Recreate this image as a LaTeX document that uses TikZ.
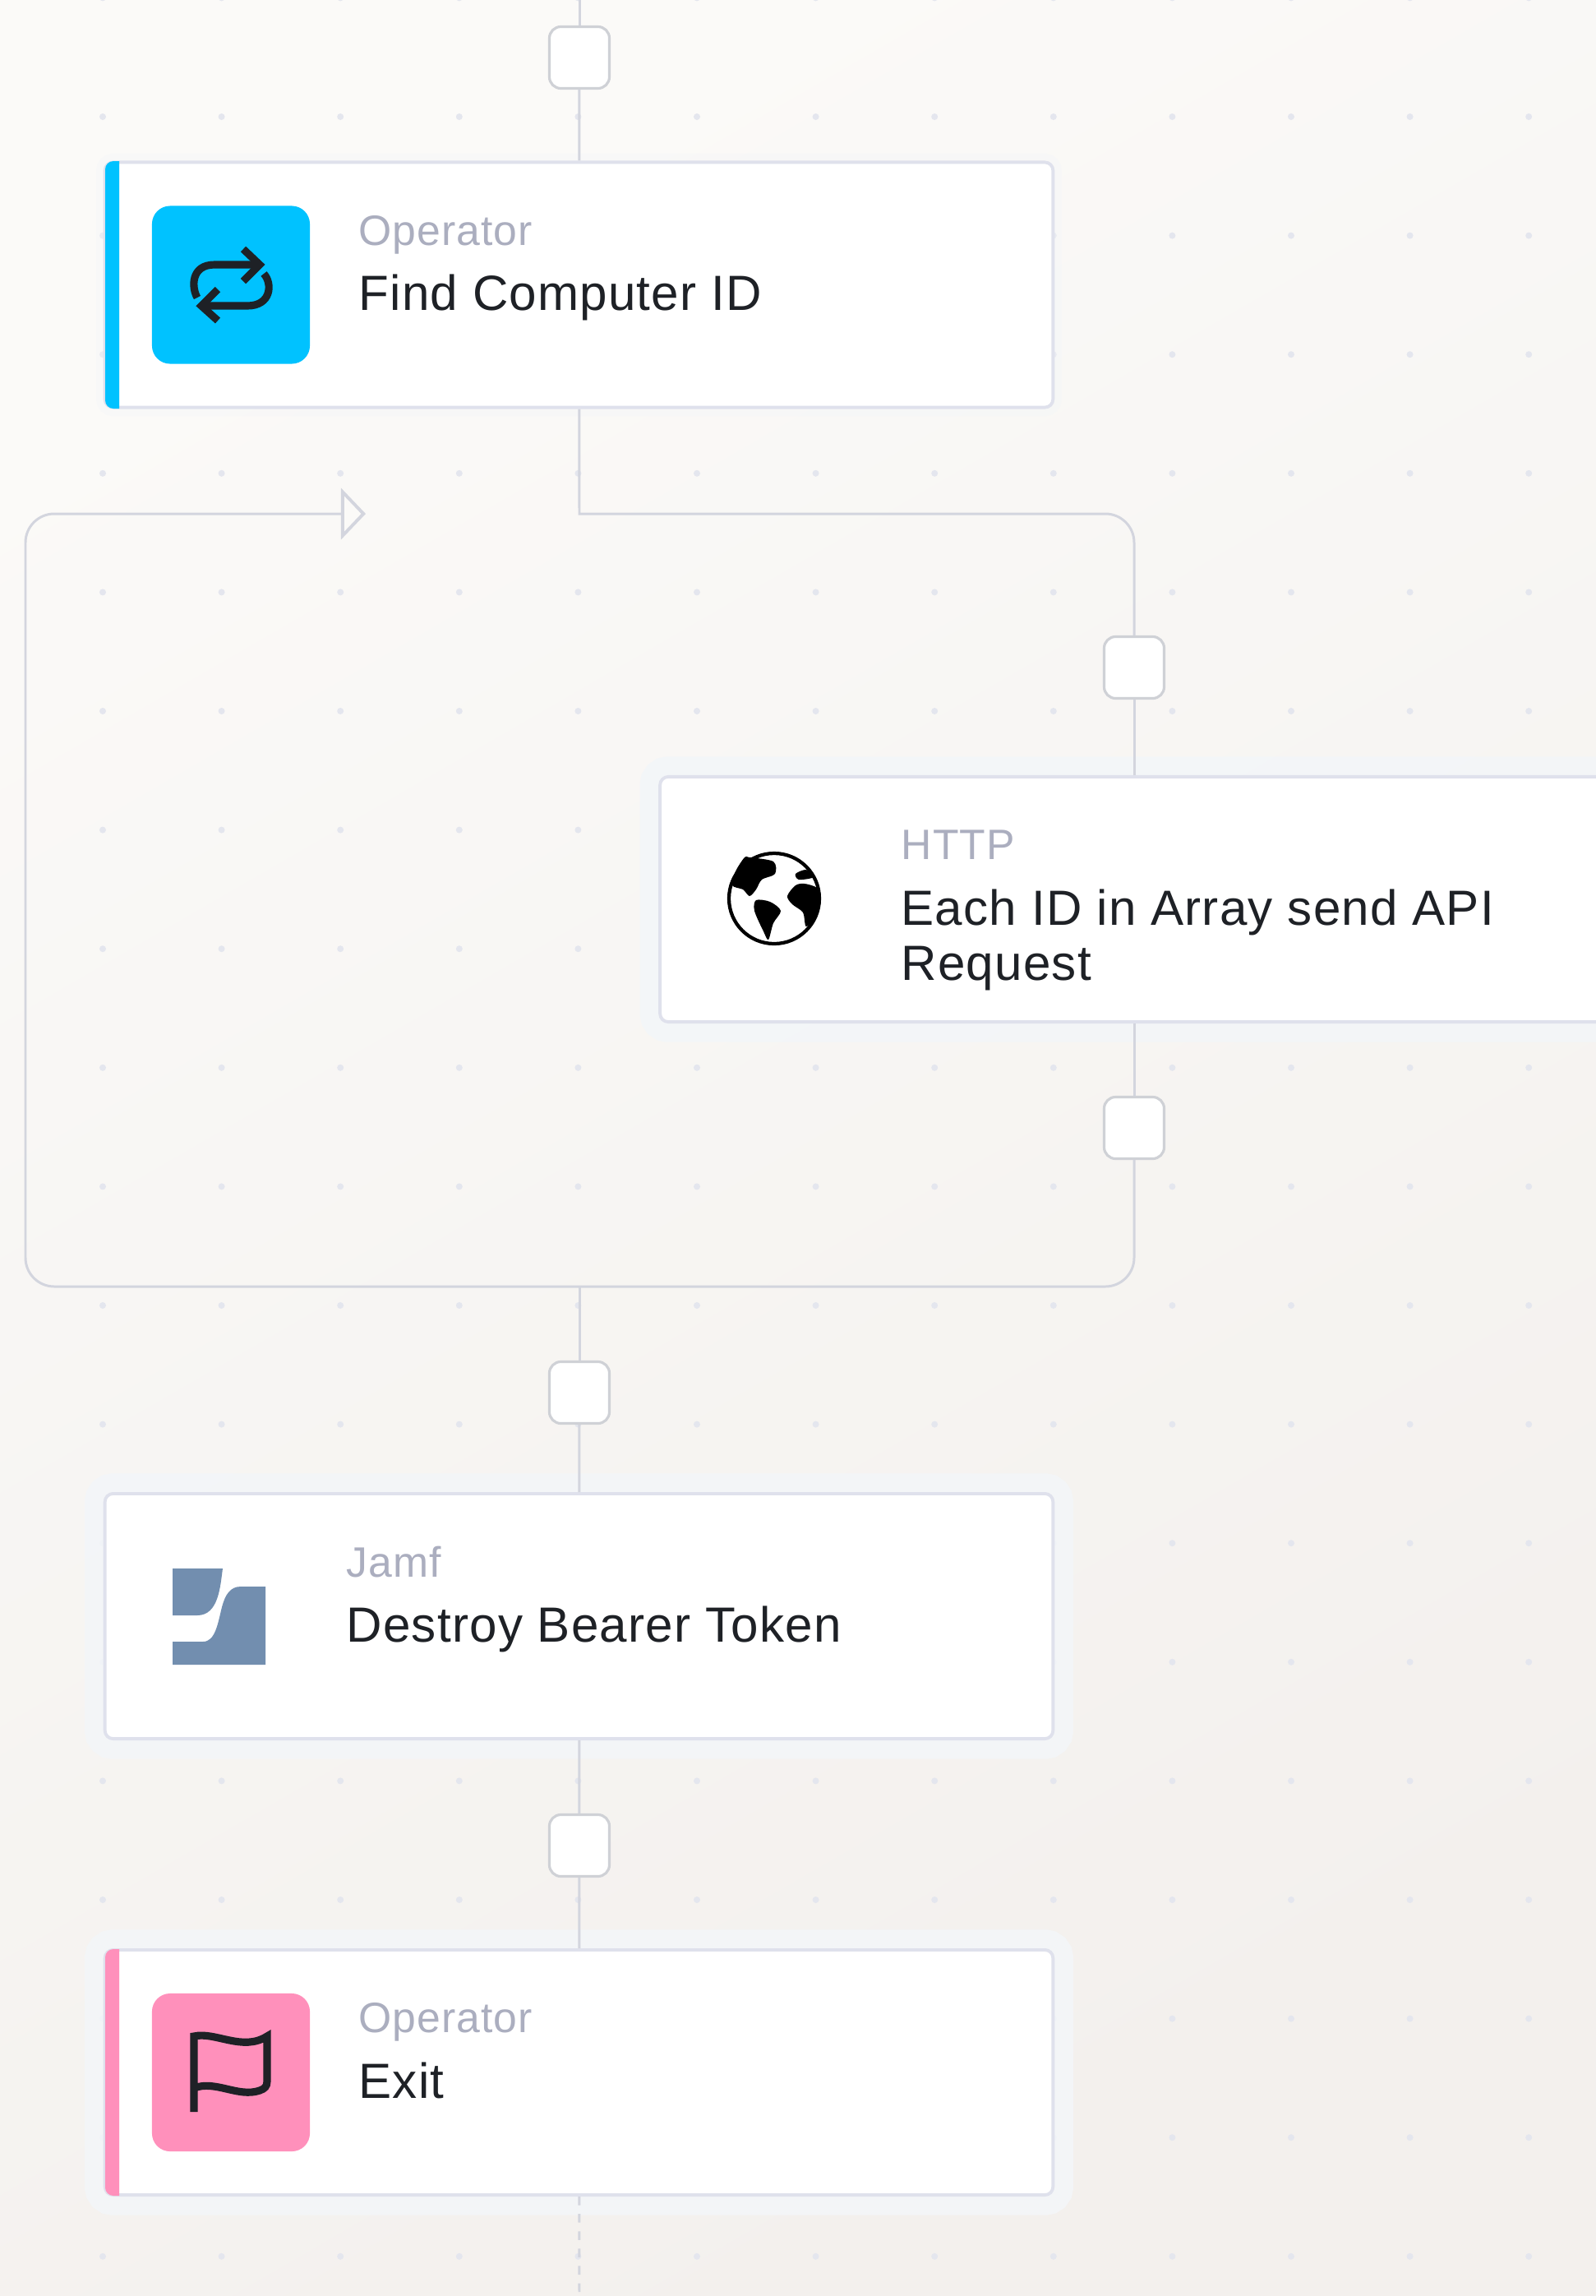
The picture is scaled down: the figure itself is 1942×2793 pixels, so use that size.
\documentclass[tikz,border=0pt]{standalone}
\usepackage{fontspec}
\setmainfont[LetterSpace=2.0]{Liberation Sans}
\usetikzlibrary{arrows.meta}
\definecolor{bgtop}{HTML}{FBFAF8}
\definecolor{bgbot}{HTML}{F3F0ED}
\definecolor{griddot}{HTML}{E4E6EE}
\definecolor{linkgray}{HTML}{D3D5DE}
\definecolor{cardedge}{HTML}{DFE1EC}
\definecolor{gapedge}{HTML}{CFD1D6}
\definecolor{halo}{HTML}{F3F6F9}
\definecolor{cyanop}{HTML}{00C2FF}
\definecolor{pinkop}{HTML}{FF90BB}
\definecolor{jamfblue}{HTML}{728EAF}
\definecolor{inkdark}{HTML}{1E2126}
\definecolor{subgray}{HTML}{ABAEBF}
\tikzset{
  cardbase/.style={draw=cardedge, fill=white, line width=1.1pt, rounded corners=0.1cm, minimum width=11.53cm, minimum height=2.98cm},
  card/.style={cardbase, preaction={draw=halo, draw opacity=0.85, line width=14pt}},
  softcard/.style={cardbase, preaction={draw=halo, draw opacity=0.35, line width=6pt}},
  gapbox/.style={draw=gapedge, fill=white, line width=0.9pt, rounded corners=0.14cm, minimum width=0.73cm, minimum height=0.75cm},
  iconbox/.style={rounded corners=0.22cm, minimum size=1.92cm},
  link/.style={draw=linkgray, line width=0.85pt},
  kindtext/.style={anchor=base west, inner sep=0pt, text=subgray, font=\fontsize{14.7}{17}\selectfont},
  nametext/.style={anchor=base west, inner sep=0pt, text=inkdark, align=left, font=\fontsize{17.1}{19}\selectfont},
  iconline/.style={draw=inkdark, line width=2.6pt}
}
\begin{document}
\begin{tikzpicture}[x=0.01cm,y=-0.01cm]
\useasboundingbox (0,0) rectangle (1942,2793);
\shade [top color=bgtop, bottom color=bgbot, shading angle=30] (0,0) rectangle (1942,2793);
\foreach \i in {0,...,12} \foreach \j in {0,...,19}
  \fill [griddot] (125+144.6*\i,-2.6+144.6*\j) circle (4);

\node (find) [softcard] at (704.5,346.5) {};
\node (http) [card] at (1380,1094) {};
\node (jamf) [card] at (704.5,1966) {};
\node (exit) [card] at (704.5,2521) {};

\node (gapa) [gapbox] at (705,70) {};
\node (gapb) [gapbox] at (1380,812) {};
\node (gapc) [gapbox] at (1380,1372) {};
\node (gapd) [gapbox] at (705,1694) {};
\node (gape) [gapbox] at (705,2245) {};

\coordinate (entry) at (705,0);
\coordinate (loopin) at (705,625);
\coordinate (looptr) at (1380,625);
\coordinate (loopbr) at (1380,1565);
\coordinate (loopbl) at (31,1565);
\coordinate (looptl) at (31,625);
\coordinate (loophead) at (445,625);
\coordinate (loopout) at (705,1565);
\coordinate (leave) at (705,2793);

\draw [link] (entry) -- (gapa);
\draw [link] (gapa) -- (find);
\draw [link] (find) -- (loopin) [rounded corners=0.35cm] -- (looptr) -- (gapb);
\draw [link] (gapb) -- (http);
\draw [link] (http) -- (gapc);
\draw [link, rounded corners=0.35cm, -{Triangle[open, fill=bgtop, length=0.3cm, width=0.62cm, line width=1.1pt]}] (gapc) -- (loopbr) -- (loopbl) -- (looptl) -- (loophead);
\draw [link] (loopout) -- (gapd);
\draw [link] (gapd) -- (jamf);
\draw [link] (jamf) -- (gape);
\draw [link] (gape) -- (exit);
\draw [link, dashed] (exit) -- (leave);

\fill [cyanop] (145,196) [rounded corners=0.1cm] -- (128,196) -- (128,497) [sharp corners] -- (145,497) -- cycle;
\fill [pinkop] (145,2371) [rounded corners=0.1cm] -- (128,2371) -- (128,2671) [sharp corners] -- (145,2671) -- cycle;

\node (findicon) [iconbox, fill=cyanop] at (281,346.5) {};
\node (exiticon) [iconbox, fill=pinkop] at (281,2521) {};

% loop arrows
\draw [iconline] (240,362) .. controls (233,350) and (232,322) .. (261,322) -- (314,322);
\draw [iconline] (296,303) -- (316,322) -- (296,342);
\draw [iconline] (321,333) .. controls (332,345) and (330,372) .. (301,372) -- (247,372);
\draw [iconline] (265,352) -- (245,372) -- (265,390);

% flag
\draw [iconline] (236,2569) -- (236,2477) .. controls (262,2471) and (295,2496) .. (325,2477) -- (325,2532) .. controls (325,2538) and (322,2541) .. (316,2543) .. controls (290,2552) and (262,2530) .. (236,2540);

% globe
\draw [black, line width=1.2pt] (942,1093) circle (55);
\fill [black] plot [smooth cycle, tension=0.5] coordinates {(912,1043) (941,1048) (943,1063) (927,1070) (920,1082) (912,1090) (904,1082) (891,1077) (895,1060) (906,1043)};
\fill [black] plot [smooth cycle, tension=0.5] coordinates {(920,1095) (937,1097) (950,1108) (941,1123) (935,1143) (929,1133) (918,1108)};
\fill [black] plot [smooth cycle, tension=0.5] coordinates {(958,1090) (968,1077) (979,1075) (994,1080) (999,1093) (994,1113) (981,1127) (977,1110) (964,1100)};
\fill [black] plot [smooth cycle, tension=0.5] coordinates {(968,1063) (981,1058) (990,1067) (972,1070)};

% jamf mark
\fill [jamfblue] (210,1908) -- (271,1908) .. controls (268,1930) and (266,1965) .. (240,1965) -- (210,1965) -- cycle;
\fill [jamfblue] (323,1930) -- (323,2025) -- (210,2025) -- (210,1997) -- (247,1997) .. controls (262,1997) and (265,1975) .. (270,1955) .. controls (274,1940) and (280,1930) .. (293,1930) -- cycle;

\node (findkind) [kindtext] at (436,298) {Operator};
\node (findname) [nametext] at (436,377) {Find Computer ID};
\node (httpkind) [kindtext] at (1096,1045) {HTTP};
\node (httpname) [nametext] at (1096,1192) {Each ID in Array send API\\Request};
\node (jamfkind) [kindtext] at (421,1918) {Jamf};
\node (jamfname) [nametext] at (421,1997) {Destroy Bearer Token};
\node (exitkind) [kindtext] at (436,2472) {Operator};
\node (exitname) [nametext] at (436,2552) {Exit};
\end{tikzpicture}
\end{document}
